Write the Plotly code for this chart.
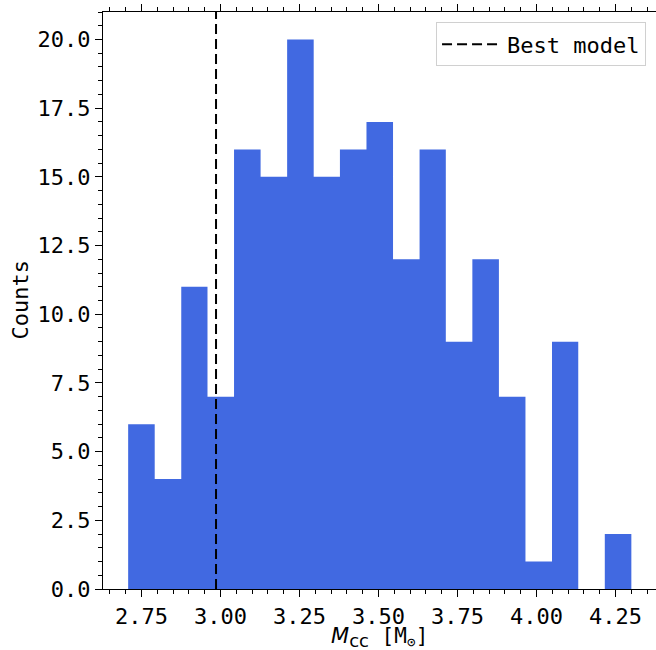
import plotly.graph_objects as go

# Histogram of core-collapse masses
bin_edges = [2.708, 2.792, 2.876, 2.959, 3.043, 3.127, 3.211, 3.295, 3.378, 3.462,
             3.546, 3.630, 3.713, 3.797, 3.881, 3.965, 4.049, 4.132, 4.216, 4.300]
counts = [6, 4, 11, 7, 16, 15, 20, 15, 16, 17, 12, 16, 9, 12, 7, 1, 9, 0, 2]
best_model = 2.986

# step outline of the histogram (one filled region, no seams between bins)
step_x = list(bin_edges)
step_y = list(counts) + [counts[-1]]

MONO = "DejaVu Sans Mono"
BAR_COLOR = "#4169E1"
y_top = 21

fig = go.Figure()
fig.add_trace(go.Scatter(
    x=step_x, y=step_y, mode="lines", line_shape="hv",
    line=dict(width=0, color=BAR_COLOR),
    fill="tozeroy", fillcolor=BAR_COLOR,
    showlegend=False, hoverinfo="skip",
))
fig.add_trace(go.Scatter(
    x=[best_model, best_model], y=[0, y_top], mode="lines",
    line=dict(color="black", width=2, dash="10px,5px"),
    name="Best model",
))

axis_common = dict(
    showline=True, linecolor="black", linewidth=1.3,
    ticks="outside", ticklen=7, tickwidth=1.3, tickcolor="black",
    showgrid=False, zeroline=False, automargin=False,
    tickfont=dict(family=MONO, size=22, color="black"),
)

fig.update_xaxes(
    **axis_common,
    range=[2.6284, 4.378], mirror="allticks",
    tick0=2.75, dtick=0.25, tickformat=".2f",
    minor=dict(dtick=0.05, tick0=2.75, ticklen=3.5, tickwidth=1, ticks="outside", tickcolor="black"),
)
fig.update_yaxes(
    **axis_common,
    range=[0, y_top], mirror=False,
    tick0=0, dtick=2.5, tickformat=".1f",
    minor=dict(dtick=0.5, tick0=0, ticklen=3.5, tickwidth=1, ticks="outside", tickcolor="black"),
)

# axis titles
fig.add_annotation(
    xref="paper", yref="paper", x=0.5, y=-0.084, xanchor="center", yanchor="middle",
    text='<span style="font-family:DejaVu Sans"><i>M</i><sub><span style="font-size:18px">cc</span></sub></span> [M<sub>⊙</sub>]',
    showarrow=False, font=dict(family=MONO, size=21, color="black"),
)
fig.add_annotation(
    xref="paper", yref="paper", x=-0.150, y=0.5, xanchor="center", yanchor="middle",
    text="Counts", textangle=-90,
    showarrow=False, font=dict(family=MONO, size=22, color="black"),
)

fig.update_layout(
    width=656, height=650,
    margin=dict(l=103, r=0, t=12, b=61),
    paper_bgcolor="white", plot_bgcolor="white",
    legend=dict(
        x=0.982, y=0.982, xanchor="right", yanchor="top",
        bgcolor="white", bordercolor="#d0d0d0", borderwidth=1,
        itemwidth=60,
        font=dict(family=MONO, size=22, color="black"),
    ),
)

fig.write_html("out.html")
